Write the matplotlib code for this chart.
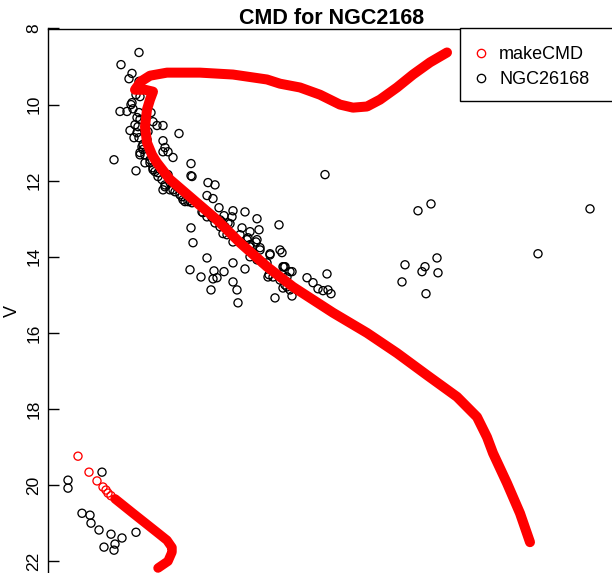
import matplotlib
matplotlib.use("Agg")
import matplotlib.pyplot as plt
from matplotlib.lines import Line2D
from matplotlib.patches import Rectangle

plt.rcParams['font.family'] = ['Liberation Sans', 'DejaVu Sans']

# ---- observed cluster photometry (NGC 2168), colour index and V magnitude ----
obs_color = [
    0.156, 0.084, 0.128, 0.116, 0.156, 0.144, 0.160, 0.128, 0.124, 0.080,
    0.108, 0.132, 0.156, 0.204, 0.148, 0.160, 0.212, 0.228, 0.252, 0.152,
    0.120, 0.148, 0.316, 0.136, 0.156, 0.168, 0.252, 0.260, 0.272, 0.292,
    0.056, 0.160, 0.172, 0.180, 0.200, 0.212, 0.144, 0.364, 0.364, 0.220,
    0.232, 0.248, 0.260, 0.280, 0.300, 0.328, 0.340, 0.352, 0.368, 0.432,
    0.460, 0.428, 0.452, 0.412, 0.428, 0.448, 0.476, 0.496, 0.512, 0.532,
    0.580, 0.528, 0.480, 0.500, 0.508, 0.532, 0.568, 0.600, 0.628, 0.636,
    0.716, 0.364, 0.372, 0.560, 0.588, 0.600, 0.628, 0.640, 0.612, 0.600,
    0.628, 0.652, 0.680, 0.720, 0.728, 0.428, 0.532, 0.580, 0.360, 0.404,
    0.456, 0.468, 0.452, 0.496, 0.532, 0.444, 0.548, 0.552, 0.668, 0.672,
    0.692, 0.732, 0.748, 0.768, 0.720, 0.748, 0.760, 0.768, 0.700, 0.828,
    0.852, 0.872, 0.908, 0.892, 0.912, 0.924, 0.900, 0.172, 0.160, 0.180,
    0.200, 0.212, 0.232, 0.260, 0.280, 0.320, 0.332, 0.252, 0.272, 0.292,
    0.312, 0.408, 0.460, 0.480, 0.360, 0.488, 0.520, 0.492, 0.592, 0.624,
    0.600, 0.676, 0.740, 0.728, 0.748, 0.732, 0.760, 0.736, 0.680, 0.740,
    0.640, 0.368, 0.188, 0.192, 0.140, 1.272, 1.324, 1.960, 1.752, 1.348,
    1.220, 1.300, 1.288, 1.352, 1.208, 1.304, -0.128, -0.128, 0.008, -0.072,
    -0.040, -0.036, -0.004, 0.044, 0.144, 0.088, 0.060, 0.016, 0.056, 0.252,
]
obs_V = [
    8.63, 8.95, 9.18, 9.32, 9.39, 9.74, 9.79, 9.95, 10.00, 10.18,
    10.18, 10.11, 10.21, 10.21, 10.34, 10.39, 10.45, 10.55, 10.55, 10.58,
    10.68, 10.74, 10.76, 10.87, 10.87, 11.11, 10.95, 11.13, 11.24, 11.39,
    11.45, 11.32, 11.18, 11.53, 11.53, 11.66, 11.74, 11.55, 11.87, 11.76,
    11.89, 11.97, 12.11, 12.24, 12.29, 12.42, 12.55, 12.55, 12.58, 12.05,
    12.11, 12.39, 12.47, 12.84, 12.95, 12.97, 12.71, 12.92, 13.11, 12.79,
    12.82, 12.95, 13.03, 13.21, 13.42, 13.61, 13.24, 13.34, 13.00, 13.29,
    13.16, 13.24, 13.63, 13.42, 13.55, 13.68, 13.55, 13.82, 13.89, 14.00,
    14.08, 14.16, 13.92, 13.82, 13.89, 14.03, 14.16, 14.32, 14.34, 14.53,
    14.37, 14.55, 14.58, 14.39, 14.66, 14.87, 14.87, 15.21, 14.16, 14.53,
    14.53, 14.26, 14.53, 14.39, 14.61, 14.79, 14.87, 15.03, 15.08, 14.55,
    14.68, 14.84, 14.45, 14.89, 14.87, 14.97, 11.84, 11.05, 11.26, 11.32,
    11.45, 11.71, 11.79, 12.16, 12.05, 12.37, 12.50, 12.24, 11.84, 12.24,
    12.18, 12.82, 13.11, 13.21, 12.53, 13.08, 13.13, 13.39, 13.50, 13.61,
    13.74, 14.47, 14.26, 14.47, 14.66, 14.82, 14.39, 14.26, 13.95, 14.74,
    13.76, 11.89, 10.92, 10.71, 10.53, 12.79, 12.61, 12.74, 13.92, 14.03,
    14.21, 14.26, 14.39, 14.42, 14.66, 14.97, 19.87, 20.08, 19.66, 20.74,
    20.79, 21.00, 21.18, 21.29, 21.24, 21.39, 21.55, 21.63, 21.71, 11.24,
]

# ---- model isochrone (makeCMD) ----
iso_color = [1.388, 1.320, 1.252, 1.188, 1.120, 1.068, 1.012, 0.960, 0.880, 0.800,
             0.720, 0.668, 0.532, 0.400, 0.268, 0.200, 0.164, 0.140, 0.180, 0.212,
             0.200, 0.188, 0.180, 0.188, 0.208, 0.228, 0.280, 0.388, 0.468, 0.560,
             0.668, 0.772, 0.932, 1.068, 1.188, 1.308, 1.428, 1.508, 1.548, 1.572,
             1.628, 1.680, 1.720]
iso_V = [8.63, 8.89, 9.21, 9.55, 9.87, 10.05, 10.08, 10.00, 9.74, 9.55,
         9.45, 9.34, 9.21, 9.16, 9.16, 9.24, 9.39, 9.61, 9.61, 9.66,
         9.87, 10.13, 10.58, 11.00, 11.32, 11.53, 11.97, 12.58, 13.03, 13.63,
         14.26, 14.79, 15.47, 16.00, 16.53, 17.11, 17.68, 18.21, 18.74, 19.16,
         19.95, 20.74, 21.50]
# faint isochrone branch: sparse points then dense run
iso2_pts_color = [-0.088, -0.044, -0.012, 0.012, 0.024, 0.032, 0.044]
iso2_pts_V = [19.24, 19.66, 19.89, 20.05, 20.13, 20.21, 20.28]
iso2_color = [0.060, 0.132, 0.228, 0.268, 0.288, 0.288, 0.272, 0.232]
iso2_V = [20.36, 20.74, 21.24, 21.45, 21.64, 21.76, 22.00, 22.18]

y_ticks = [8, 10, 12, 14, 16, 18, 20, 22]
legend_labels = ['makeCMD', 'NGC26168']

W, H = 612, 573
fig = plt.figure(figsize=(W / 100, H / 100), dpi=100)
left_px, right_px, top_px = 47.5, 615.0, 28.5
v_top, v_bot = 8.0, 22.5
px_per_mag = 38.05
bottom_px = top_px + (v_bot - v_top) * px_per_mag
ax = fig.add_axes([left_px / W, 1 - bottom_px / H,
                   (right_px - left_px) / W, (bottom_px - top_px) / H])

red = '#ff0000'
ax.plot(iso_color, iso_V, color=red, lw=7.2, solid_capstyle='round',
        solid_joinstyle='round', zorder=3)
ax.plot(iso2_color, iso2_V, color=red, lw=6.8, solid_capstyle='round',
        solid_joinstyle='round', zorder=3)
ax.scatter(iso2_pts_color, iso2_pts_V, s=34, facecolors='none',
           edgecolors=red, linewidths=0.95, zorder=3)
ax.scatter(obs_color, obs_V, s=34, facecolors='none', edgecolors='black',
           linewidths=0.95, zorder=2)

ax.set_xlim((left_px - 100) * 0.004, (right_px - 100) * 0.004)
ax.set_ylim(v_bot, v_top)
ax.set_yticks(y_ticks)
ax.set_yticklabels([str(t) for t in y_ticks], rotation=90, va='center',
                   fontsize=12.5)
ax.tick_params(axis='y', direction='in', length=8, width=1.0, pad=4.5)
ax.set_xticks([])
for s in ax.spines.values():
    s.set_linewidth(1.0)
ax.set_ylabel('V', fontsize=13)
ax.yaxis.label.set_verticalalignment('center')
ax.yaxis.set_label_coords(-(left_px - 12) / (right_px - left_px),
                          1 - (311 - top_px) / (bottom_px - top_px))
ax.set_title('CMD for NGC2168', fontsize=15.5, fontweight='bold', pad=2.5)

handles = [Line2D([], [], ls='none', marker='o', mfc='none', mec=red, ms=6, mew=0.95),
           Line2D([], [], ls='none', marker='o', mfc='none', mec='black', ms=6, mew=0.95)]
frame = Rectangle((460 / W, 1 - 100.5 / H), 170 / W, 72 / H,
                  transform=fig.transFigure, facecolor='white',
                  edgecolor='black', linewidth=1.0, zorder=4, clip_on=False)
ax.add_artist(frame)
leg = ax.legend(handles, legend_labels, loc='upper left',
                bbox_to_anchor=(460 / W, 1 - 33.5 / H),
                bbox_transform=fig.transFigure, borderaxespad=0,
                fontsize=13, frameon=False, borderpad=0.7, handlelength=0.9,
                handletextpad=0.57, labelspacing=0.45)
leg.set_zorder(6)

fig.savefig('out.png', dpi=100)
